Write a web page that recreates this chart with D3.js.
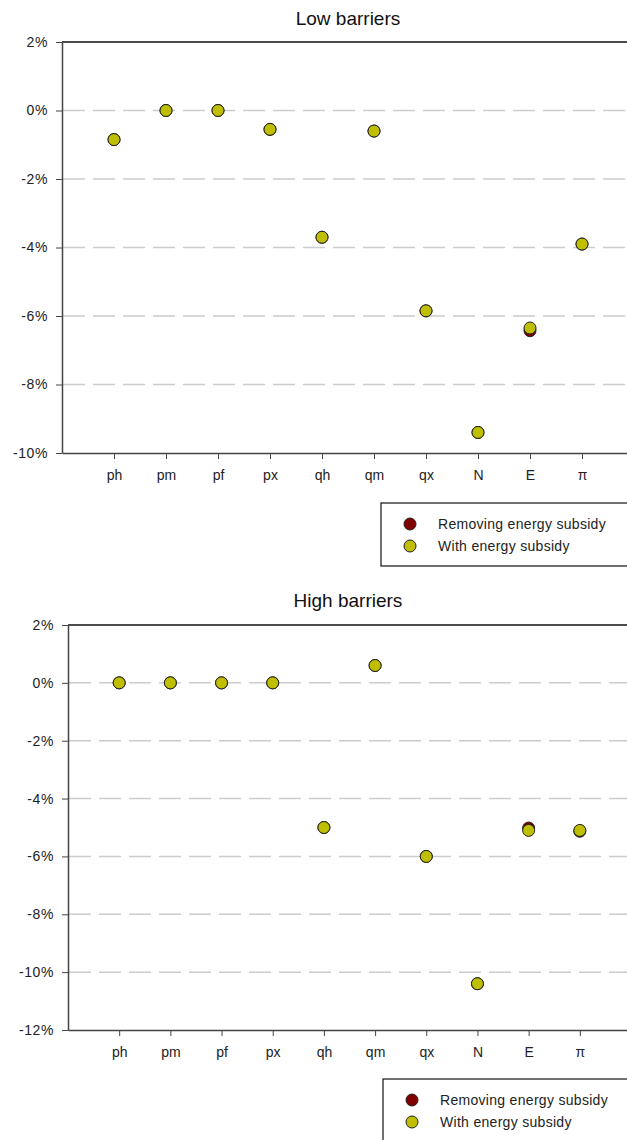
<!DOCTYPE html>
<html>
<head>
<meta charset="utf-8">
<script src="https://cdn.jsdelivr.net/npm/d3@7"></script>
<style>
  body { margin: 0; background: #fff; }
  svg { display: block; font-family: "Liberation Sans", Arial, sans-serif; }
</style>
</head>
<body>
<svg width="627" height="1140"></svg>
<script>
const svg = d3.select("svg");

// data (percent changes)
const categories = ["ph", "pm", "pf", "px", "qh", "qm", "qx", "N", "E", "π"];
const seriesNames = ["Removing energy subsidy", "With energy subsidy"];
const seriesColors = ["#800000", "#bfbf00"];

const lowRemoving = [-0.85, 0, 0, -0.55, -3.7, -0.6, -5.85, -9.4, -6.43, -3.9];
const lowWith     = [-0.85, 0, 0, -0.55, -3.7, -0.6, -5.85, -9.4, -6.35, -3.9];
const highRemoving = [0, 0, 0, 0, -5.0, 0.6, -6.0, -10.4, -5.02, -5.13];
const highWith     = [0, 0, 0, 0, -5.0, 0.6, -6.0, -10.4, -5.1, -5.1];

const lowTicks = [2, 0, -2, -4, -6, -8, -10];
const highTicks = [2, 0, -2, -4, -6, -8, -10, -12];

const R = 6;

function drawPanel(opt) {
    const g = svg.append("g");

    const x = d3.scaleLinear()
                .domain([0, categories.length + 1])
                .range([opt.left, opt.right]);
    const y = d3.scaleLinear()
                .domain(d3.extent(opt.ticks))
                .range([opt.bottom, opt.top]);

    const yMax = d3.max(opt.ticks), yMin = d3.min(opt.ticks);

    // title
    g.append("text")
     .attr("x", 348).attr("y", opt.titleY)
     .attr("text-anchor", "middle")
     .attr("font-size", 19)
     .attr("fill", "#111")
     .text(opt.title);

    // dashed grid
    g.selectAll(".grid")
     .data(opt.ticks.filter(t => t !== yMax && t !== yMin))
     .enter().append("line")
     .attr("x1", opt.left + 1).attr("x2", 627)
     .attr("y1", d => y(d)).attr("y2", d => y(d))
     .attr("stroke", "#cccccc")
     .attr("stroke-width", 1.5)
     .attr("stroke-dasharray", "22,8");

    // top frame line
    g.append("line")
     .attr("x1", opt.left).attr("x2", 627)
     .attr("y1", y(yMax)).attr("y2", y(yMax))
     .attr("stroke", "#111").attr("stroke-width", 1.5);

    // y axis
    const yAxis = d3.axisLeft(y)
                    .tickValues(opt.ticks)
                    .tickSize(6).tickSizeOuter(0).tickPadding(8)
                    .tickFormat(d => d + "%");
    const ya = g.append("g")
                .attr("transform", `translate(${opt.left},0)`)
                .call(yAxis);
    ya.select(".domain").attr("stroke", "#444").attr("stroke-width", 1.5);
    ya.selectAll(".tick line").attr("stroke", "#444");
    ya.selectAll("text")
      .attr("font-size", 14).attr("fill", "#222")
      .attr("letter-spacing", 0.6)
      .attr("font-family", "Liberation Sans, Arial, sans-serif");

    // x axis
    const xAxis = d3.axisBottom(x)
                    .tickValues(d3.range(1, categories.length + 1))
                    .tickSize(6).tickSizeOuter(0).tickPadding(11)
                    .tickFormat(i => categories[i - 1]);
    const xa = g.append("g")
                .attr("transform", `translate(0,${opt.bottom})`)
                .call(xAxis);
    xa.select(".domain").attr("stroke", "#444").attr("stroke-width", 1.5);
    xa.selectAll(".tick line").attr("stroke", "#444");
    xa.selectAll("text")
      .attr("font-size", 14).attr("fill", "#222")
      .attr("font-family", "Liberation Sans, Arial, sans-serif");

    // points: removing first, then with on top
    [opt.removing, opt.with].forEach((vals, s) => {
        g.selectAll(".pt" + s)
         .data(vals)
         .enter().append("circle")
         .attr("cx", (d, i) => x(i + 1))
         .attr("cy", d => y(d))
         .attr("r", R)
         .attr("fill", seriesColors[s])
         .attr("stroke", "#222")
         .attr("stroke-width", 1);
    });

    // legend
    const lg = g.append("g");
    lg.append("rect")
      .attr("x", opt.legendX).attr("y", opt.legendY)
      .attr("width", 300).attr("height", opt.legendH)
      .attr("fill", "#fff")
      .attr("stroke", "#111").attr("stroke-width", 1.2);
    seriesNames.forEach((name, s) => {
        const cy = opt.legendY + 21 + s * 22;
        lg.append("circle")
          .attr("cx", opt.legendX + 29).attr("cy", cy).attr("r", R)
          .attr("fill", seriesColors[s])
          .attr("stroke", "#222").attr("stroke-width", 1);
        lg.append("text")
          .attr("x", opt.legendX + 57).attr("y", cy + 5)
          .attr("font-size", 14).attr("fill", "#222")
          .attr("letter-spacing", 0.3)
          .text(name);
    });
}

drawPanel({
    title: "Low barriers", titleY: 25,
    left: 62, right: 634, top: 42, bottom: 453,
    ticks: lowTicks, removing: lowRemoving, with: lowWith,
    legendX: 381, legendY: 503, legendH: 63
});

drawPanel({
    title: "High barriers", titleY: 607,
    left: 68, right: 631, top: 625, bottom: 1030,
    ticks: highTicks, removing: highRemoving, with: highWith,
    legendX: 383, legendY: 1079, legendH: 80
});
</script>
</body>
</html>
